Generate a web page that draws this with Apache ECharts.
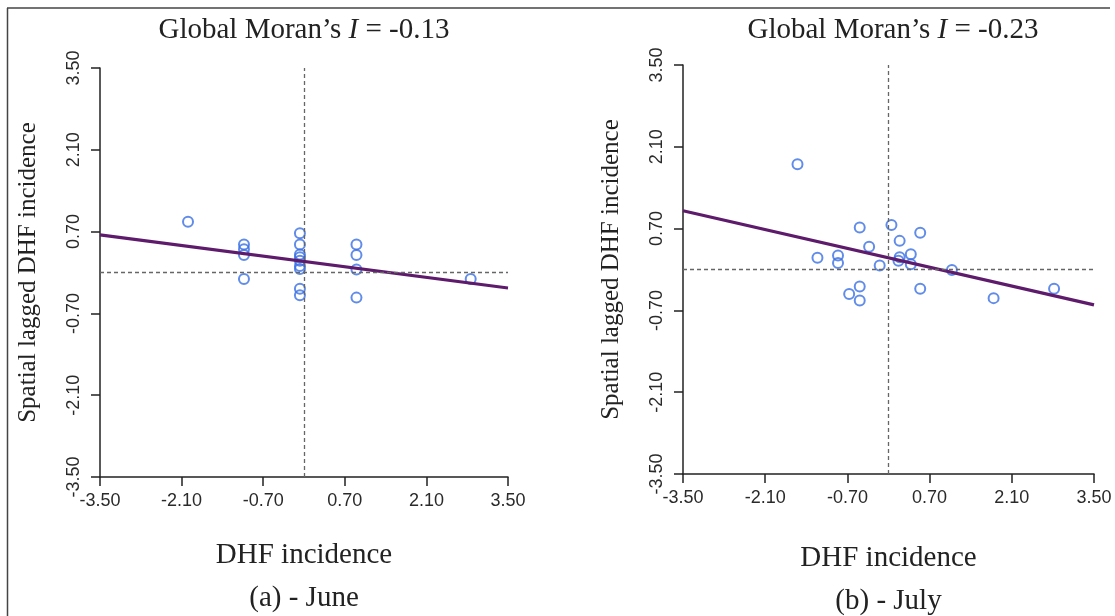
<!DOCTYPE html>
<html>
<head>
<meta charset="utf-8">
<script src="https://cdn.jsdelivr.net/npm/echarts@6/dist/echarts.min.js"></script>
<style>
html,body{margin:0;padding:0;background:#fff;}
#c{width:1115px;height:616px;}
</style>
</head>
<body>
<div id="c"></div>
<script>
// ---- data ----
var tickValues = [-3.5, -2.1, -0.7, 0.7, 2.1, 3.5];
var panelTitles = ['-0.13', '-0.23'];
var panelCaptions = ['(a) - June', '(b) - July'];
var xAxisTitle = 'DHF incidence';
var yAxisTitle = 'Spatial lagged DHF incidence';

var juneX = [-1.99, -1.03, -1.03, -1.03, -1.03, -0.07, -0.07, -0.07, -0.07, -0.07, -0.07, -0.07, -0.07, -0.07, 0.90, 0.90, 0.90, 0.90, 2.86];
var juneY = [0.87, 0.48, 0.40, 0.30, -0.11, 0.67, 0.48, 0.31, 0.26, 0.20, 0.11, 0.06, -0.28, -0.39, 0.48, 0.30, 0.05, -0.43, -0.11];

var julyX = [-1.55, -0.49, 0.05, 0.54, 0.19, -0.33, -1.21, -0.86, -0.86, -0.15, 0.19, 0.17, 0.38, 0.38, 1.08, -0.49, -0.67, -0.49, 0.54, 1.79, 2.82];
var julyY = [1.80, 0.72, 0.76, 0.63, 0.49, 0.39, 0.20, 0.24, 0.11, 0.07, 0.21, 0.15, 0.26, 0.09, -0.01, -0.29, -0.42, -0.53, -0.33, -0.49, -0.33];

var slopes = [-0.13, -0.23];
var intercepts = [0.19, 0.20];
// ---------------

function pairs(xs, ys){ return xs.map(function(x,i){return [x, ys[i]];}); }
function fitLine(k){
  var a = tickValues[0], b = tickValues[tickValues.length-1];
  return [[a, intercepts[k] + slopes[k]*a], [b, intercepts[k] + slopes[k]*b]];
}

var grids = [
  {left:100, top:68, width:408, height:409},
  {left:683, top:65, width:411, height:409}
];
var nameGaps = [64, 70];
var titleX = [304, 893];
var captionY = [598, 601];

function xAx(i){
  return {
    type:'value', gridIndex:i, min:-3.5, max:3.5,
    name:xAxisTitle, nameLocation:'middle', nameGap:nameGaps[i],
    nameTextStyle:{fontFamily:'Liberation Serif', fontSize:29, color:'#222'},
    axisLine:{show:true, onZero:false, lineStyle:{color:'#222', width:1.5}},
    axisTick:{show:true, inside:false, length:9, customValues:tickValues, lineStyle:{color:'#222', width:1.5}},
    axisLabel:{show:true, margin:15, customValues:tickValues, fontFamily:'Liberation Sans', fontSize:18, color:'#2a2a2a',
      formatter:function(v){return v.toFixed(2);}},
    splitLine:{show:false}
  };
}
function yAx(i){
  return {
    type:'value', gridIndex:i, min:-3.5, max:3.5,
    name:yAxisTitle, nameLocation:'middle', nameGap:59, nameRotate:90,
    nameTextStyle:{fontFamily:'Liberation Serif', fontSize:25, color:'#222'},
    axisLine:{show:true, onZero:false, lineStyle:{color:'#222', width:1.5}},
    axisTick:{show:true, inside:false, length:9, customValues:tickValues, lineStyle:{color:'#222', width:1.5}},
    axisLabel:{show:true, rotate:90, margin:17, customValues:tickValues, fontFamily:'Liberation Sans', fontSize:18, color:'#2a2a2a',
      formatter:function(v){return v.toFixed(2);}},
    splitLine:{show:false}
  };
}

function scatter(i, data){
  return {
    type:'scatter', xAxisIndex:i, yAxisIndex:i, data:data,
    symbol:'circle', symbolSize:10,
    itemStyle:{color:'rgba(255,255,255,0)', borderColor:'#3a6fe4', borderWidth:2},
    z:3,
    markLine:{
      silent:true, symbol:'none', label:{show:false},
      lineStyle:{color:'#666', type:[4,3], width:1.3},
      data:[{xAxis:0},{yAxis:0}],
      animation:false
    },
    animation:false
  };
}
function fit(i){
  return {
    type:'line', xAxisIndex:i, yAxisIndex:i, data:fitLine(i),
    symbol:'none', lineStyle:{color:'#5e1b6b', width:3.2}, z:4, animation:false
  };
}

var graphics = [];
for (var k=0;k<2;k++){
  graphics.push({
    type:'text', x:titleX[k], y:30,
    style:{
      text:'{a|Global Moran\u2019s }{i|I}{a| = ' + panelTitles[k] + '}',
      align:'center', verticalAlign:'middle',
      rich:{
        a:{fontFamily:'Liberation Serif', fontSize:29, fill:'#222'},
        i:{fontFamily:'Liberation Serif', fontSize:29, fontStyle:'italic', fill:'#222'}
      }
    }
  });
  graphics.push({
    type:'text', x:grids[k].left + grids[k].width/2, y:captionY[k],
    style:{text:panelCaptions[k], align:'center', verticalAlign:'middle',
      font:'29px "Liberation Serif"', fill:'#222'}
  });
}
graphics.push({type:'line', shape:{x1:7, y1:8, x2:1110, y2:8}, style:{stroke:'#444', lineWidth:1.5}});
graphics.push({type:'line', shape:{x1:7.5, y1:8, x2:7.5, y2:616}, style:{stroke:'#444', lineWidth:1.5}});

var chart = echarts.init(document.getElementById('c'), null, {renderer:'canvas'});
chart.setOption({
  backgroundColor:'#fff',
  animation:false,
  grid:grids,
  xAxis:[xAx(0), xAx(1)],
  yAxis:[yAx(0), yAx(1)],
  series:[scatter(0, pairs(juneX, juneY)), fit(0), scatter(1, pairs(julyX, julyY)), fit(1)],
  graphic:graphics
});
</script>
</body>
</html>
